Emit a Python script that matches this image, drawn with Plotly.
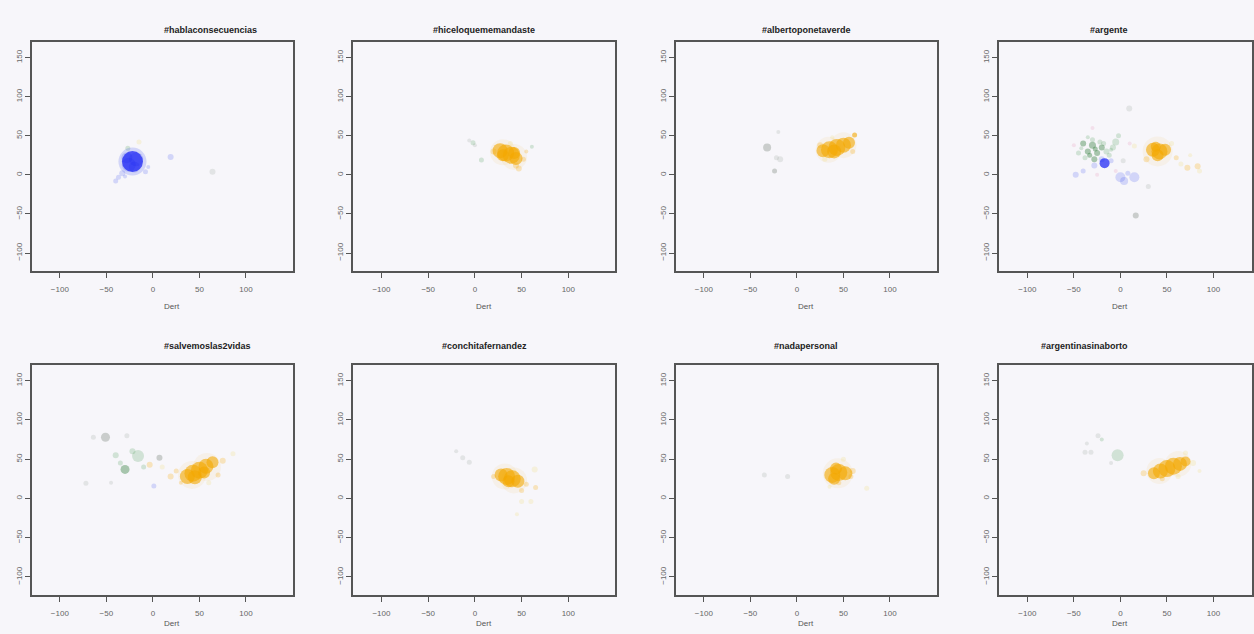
import plotly.graph_objects as go

# Títulos de cada panel (hashtags)
titulos = ["#hablaconsecuencias", "#hiceloquememandaste", "#albertoponetaverde", "#argente",
           "#salvemoslas2vidas", "#conchitafernandez", "#nadapersonal", "#argentinasinaborto"]

x_ticks = [-100, -50, 0, 50, 100]
y_ticks = [-100, -50, 0, 50, 100, 150]
etiqueta_x = "Dert"

# Cada panel: coordenadas, tamaño y grupo de cada punto
p1_x = [-22, -22, -26, -18, -20, -28, -33, -37, -40, -30, -8, -5, 19, 64, -27, -15]
p1_y = [17, 17, 13, 20, 10, 22, 2, -3, -8, -2, 4, 10, 23, 4, 34, 42]
p1_t = [28, 21, 14, 14, 11, 11, 6, 5, 5, 4, 5, 4, 6, 6, 5, 5]
p1_g = ["az2", "az", "az2", "az2", "az2", "az2", "az2", "az2", "az2", "az2", "az2", "az2", "az2", "gr2", "ve2", "am"]

p2_x = [30, 42, 27, 33, 39, 44, 30, 42, 47, 44, 52, 20, 55, 38, -2, 7, 0, -6, 61]
p2_y = [29, 23, 31, 28, 25, 21, 25, 28, 8, 12, 20, 30, 30, 40, 41, 19, 38, 44, 36]
p2_t = [26, 26, 15, 17, 17, 13, 12, 12, 6, 6, 5, 6, 4, 5, 5, 5, 4, 4, 4]
p2_g = ["ha", "ha", "na", "na", "na", "na", "na", "na", "na2", "na2", "na2", "na2", "na2", "am",
        "ve2", "ve2", "gr2", "gr2", "ve2"]

p3_x = [34, 50, 28, 35, 43, 50, 56, 40, 62, 25, 30, 60, 38, -32, -24, -18, -22, -20]
p3_y = [32, 38, 31, 32, 35, 38, 41, 30, 51, 38, 20, 30, 48, 35, 5, 20, 22, 55]
p3_t = [26, 26, 13, 17, 17, 15, 12, 14, 5, 6, 5, 5, 4, 8, 5, 6, 5, 4]
p3_g = ["ha", "ha", "na", "na", "na", "na", "na", "na", "na", "na2", "am", "na2", "am",
        "gr", "gr", "gr2", "gr2", "gr2"]

p4_x = [40, 35, 42, 48, 40, 38, 83, 72, 60, 65, 55, 28, 15, 75, 85,
        -40, -35, -30, -25, -20, -30, -38, -15, -5, -8, -45, -28, -22, -35, -12, -2,
        -33, -27, -18, -42, -10,
        -17, -20, -28, 0, 4, 15, -48, -40, -10, 8,
        16.5, 9.5, 3, 30, -30, -50, -5, 10, -25]
p4_y = [30, 32, 30, 32, 25, 36, 11, 9, 22, 14, 40, 20, 37, 25, 5,
        40, 30, 38, 28, 35, 45, 22, 30, 42, 35, 28, 20, 42, 48, 25, 50,
        25, 33, 40, 34, 32,
        15, 20, 12, -3, -8, -3, 0, 5, 18, 2,
        -52, 85, 18, -15, 60, 38, 5, 40, 0]
p4_t = [30, 14, 16, 12, 12, 10, 6, 6, 5, 5, 5, 6, 5, 4, 5,
        6, 6, 7, 6, 6, 5, 5, 6, 7, 6, 5, 6, 5, 4, 5, 5,
        5, 5, 5, 4, 4,
        10, 6, 6, 10, 8, 10, 6, 5, 5, 5,
        6, 6, 5, 5, 4, 4, 4, 4, 4]
p4_g = ["ha", "na", "na", "na", "na", "na", "na2", "na2", "na2", "am", "am", "na2", "am", "am", "am",
        "ve", "ve", "ve", "ve", "ve", "ve2", "ve2", "ve2", "ve2", "ve2", "ve2", "ve", "ve2", "ve2", "ve2", "ve2",
        "ve", "ve", "ve2", "ve2", "ve2",
        "az", "az2", "az2", "az2", "az2", "az2", "az2", "az2", "az2", "az2",
        "gr", "gr2", "gr2", "gr2", "ro", "ro", "ro", "ro", "ro"]

p5_x = [42, 58, 37, 43, 50, 57, 64, 45, 55, -3.5, 19, 86, 25, 75, 70, 10, 60, 30,
        -51, -16, -30, -64, -28, 7, -72, 1, -40, -35, -22, -10, -45]
p5_y = [30, 40, 28, 32, 36, 41, 46, 27, 33, 43, 28, 57, 35, 48, 30, 40, 20, 20,
        78, 54, 37, 78, 80, 52, 19.5, 16, 55, 45, 60, 40, 20]
p5_t = [28, 28, 15, 17, 17, 15, 12, 14, 12, 6, 6, 5, 5, 6, 5, 5, 5, 4,
        9, 12, 9, 5, 5, 6, 5, 5, 6, 5, 6, 5, 4]
p5_g = ["ha", "ha", "na", "na", "na", "na", "na", "na", "na", "na2", "na2", "am", "na2", "na2", "na2", "am", "am", "na2",
        "gr", "ve2", "ve", "gr2", "gr2", "gr", "gr2", "az2", "ve2", "ve2", "ve2", "ve2", "gr2"]

p6_x = [32, 42, 28, 34, 40, 46, 36, -13, -6, 64, 60, 50, 65, 55, 20, 50, 45, -20]
p6_y = [28, 23, 30, 28, 25, 22, 22, 52, 46, 37, -4, -4, 14, 18, 28, 10, -20, 60]
p6_t = [26, 26, 13, 17, 17, 13, 12, 5, 5, 6, 5, 5, 5, 5, 5, 5, 4, 4]
p6_g = ["ha", "ha", "na", "na", "na", "na", "na", "gr2", "gr2", "am", "am", "am", "na2", "na2", "na2", "na2", "am", "gr2"]

p7_x = [44, 38, 45, 52, 42, 40, 60, 58, 75, -35, -10, 45, 50, 35]
p7_y = [32, 30, 33, 32, 38, 25, 35, 28, 13, 30, 28, 20, 50, 15]
p7_t = [30, 16, 17, 14, 12, 12, 6, 5, 5, 5, 5, 5, 5, 4]
p7_g = ["ha", "na", "na", "na", "na", "na", "na2", "na2", "am", "gr2", "gr2", "na2", "am", "am"]

p8_x = [42, 62, 36, 43, 50, 57, 64, 70, 25, 78, 70, 45, 62, 85, -3, -31.6, -38, -24, -36, -20, -10]
p8_y = [35, 44, 32, 35, 38, 41, 44, 47, 32, 45, 58, 25, 28, 35, 55, 59, 59, 80, 70, 75, 45]
p8_t = [26, 26, 12, 15, 17, 17, 14, 10, 6, 6, 5, 5, 5, 4, 12, 5, 5, 5, 4, 4, 4]
p8_g = ["ha", "ha", "na", "na", "na", "na", "na", "na", "na2", "am", "am", "na2", "am", "am",
        "ve2", "gr2", "gr2", "gr2", "gr2", "ve2", "gr2"]

paneles = [(p1_x, p1_y, p1_t, p1_g), (p2_x, p2_y, p2_t, p2_g), (p3_x, p3_y, p3_t, p3_g),
           (p4_x, p4_y, p4_t, p4_g), (p5_x, p5_y, p5_t, p5_g), (p6_x, p6_y, p6_t, p6_g),
           (p7_x, p7_y, p7_t, p7_g), (p8_x, p8_y, p8_t, p8_g)]

# color de cada grupo (los tenues primero, así quedan debajo)
colores = {
    "ha": "rgba(246,180,40,0.11)",
    "am": "rgba(240,215,110,0.30)",
    "ro": "rgba(230,140,180,0.30)",
    "gr2": "rgba(150,160,150,0.30)",
    "ve2": "rgba(70,150,80,0.30)",
    "az2": "rgba(40,60,240,0.25)",
    "na2": "rgba(245,170,0,0.35)",
    "gr": "rgba(130,140,130,0.55)",
    "ve": "rgba(40,120,50,0.55)",
    "na": "rgba(244,168,0,0.85)",
    "az": "rgba(10,20,245,0.95)",
}

W, H = 1254, 634
fondo = "#f7f6fa"
# cajas de los paneles en píxeles (izq, der, arriba, abajo)
cols = [(32, 293), (354, 616), (677, 938), (1001, 1262)]
filas = [(42, 271), (365, 595)]
x_rango = (-130, 150)
y_rango = (-123, 170)

fig = go.Figure()
anotaciones = []
for i, (xs, ys, ts, gs) in enumerate(paneles):
    fila, col = divmod(i, 4)
    izq, der = cols[col]
    arr, aba = filas[fila]
    n = i + 1
    xr = list(x_rango)
    if der > W:
        # el último panel queda cortado en el borde derecho
        xr[1] = x_rango[1] - (der - W) * (x_rango[1] - x_rango[0]) / (der - izq)
        der = W
    for grupo, color in colores.items():
        idx = [k for k, g in enumerate(gs) if g == grupo]
        if not idx:
            continue
        fig.add_trace(go.Scatter(
            x=[xs[k] for k in idx], y=[ys[k] for k in idx],
            mode="markers",
            marker=dict(size=[ts[k] for k in idx], color=color, line=dict(width=0)),
            xaxis=f"x{n}", yaxis=f"y{n}", showlegend=False, hoverinfo="x+y"))

    eje = dict(showgrid=False, zeroline=False, showline=True, mirror=True,
               linecolor="#555555", linewidth=2, ticks="outside", ticklen=5,
               tickwidth=1, tickcolor="#555555",
               tickfont=dict(family="Liberation Sans, Arial", size=8, color="#666666"))
    fig.update_layout(**{
        f"xaxis{n}": dict(eje, domain=[izq / W, der / W], range=xr, tickvals=x_ticks,
                          anchor=f"y{n}", ticklabelstandoff=4),
        f"yaxis{n}": dict(eje, domain=[1 - aba / H, 1 - arr / H], range=list(y_rango),
                          tickvals=y_ticks, tickangle=-90, anchor=f"x{n}"),
    })
    centro = (izq + cols[col][1]) / 2 / W
    anotaciones.append(dict(text=f"<b>{titulos[i]}</b>", x=centro, y=1 - (arr - 19) / H,
                            xref="paper", yref="paper", showarrow=False,
                            font=dict(family="Liberation Sans, Arial", size=9, color="#222222")))
    anotaciones.append(dict(text=etiqueta_x, x=centro, y=1 - (aba + 35) / H,
                            xref="paper", yref="paper", showarrow=False,
                            font=dict(family="Liberation Sans, Arial", size=8, color="#555555")))

fig.update_layout(width=W, height=H, margin=dict(l=0, r=0, t=0, b=0),
                  paper_bgcolor=fondo, plot_bgcolor=fondo, annotations=anotaciones)

# sin el margen por defecto del navegador y sin la barra de herramientas
fig.write_html("out.html", config={"displayModeBar": False},
               post_script="document.body.style.margin='0';"
                           "document.body.style.background='" + fondo + "';")
